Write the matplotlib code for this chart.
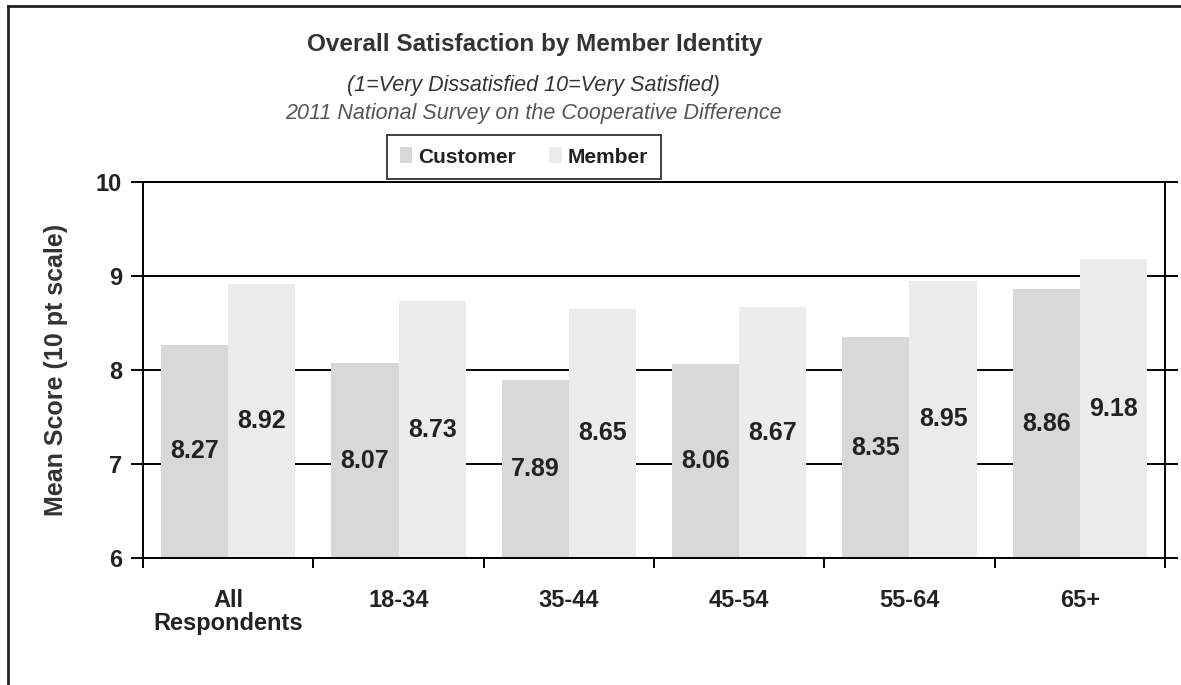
import numpy as np
import matplotlib.pyplot as plt
from matplotlib.lines import Line2D

# Data
categories = ["All\nRespondents", "18-34", "35-44", "45-54", "55-64", "65+"]
customer = [8.27, 8.07, 7.89, 8.06, 8.35, 8.86]
member = [8.92, 8.73, 8.65, 8.67, 8.95, 9.18]

plt.rcParams['font.family'] = ['Liberation Sans', 'DejaVu Sans']

fig = plt.figure(figsize=(11.81, 6.85), dpi=100)
ax = fig.add_axes([143 / 1181, 1 - 558 / 685, (1165 - 143) / 1181, (558 - 182) / 685])

x = np.arange(len(categories))
w = 0.395
b1 = ax.bar(x - w / 2, np.array(customer) - 6, w, bottom=6, color='#d8d8d8',
            label='Customer', zorder=2)
b2 = ax.bar(x + w / 2, np.array(member) - 6, w, bottom=6, color='#ececec',
            label='Member', zorder=2)

for bars, vals in ((b1, customer), (b2, member)):
    ax.bar_label(bars, labels=[f"{v:.2f}" for v in vals], label_type='center',
                 fontsize=18, fontweight='bold', color='#222222')

ax.set_ylim(6, 10)
ax.set_xlim(-0.5, len(categories) - 0.5)
ax.set_yticks([6, 7, 8, 9, 10])
ax.yaxis.grid(True, color='black', linewidth=1.4, zorder=0)
ax.set_axisbelow(True)
for s in ax.spines.values():
    s.set_linewidth(1.4)

ax.set_xticks(x)
ax.set_xticklabels(categories, fontsize=17, fontweight='bold', color='#222222',
                   linespacing=1.05)
ax.set_xticks(np.arange(len(categories) + 1) - 0.5, minor=True)
ax.tick_params(axis='x', which='major', length=0, pad=22)
ax.tick_params(axis='x', which='minor', length=7, width=1.4, direction='out')
ax.tick_params(axis='y', labelsize=17, length=9, width=1.4, pad=6,
               right=True, direction='out')
for t in ax.get_yticklabels():
    t.set_fontweight('bold')
    t.set_color('#222222')

ax.set_ylabel("Mean Score (10 pt scale)", fontsize=18, fontweight='bold',
              color='#333333', labelpad=20)

# titles
fig.text(535 / 1181, 1 - 44 / 685, "Overall Satisfaction by Member Identity",
         ha='center', va='center', fontsize=17.5, fontweight='bold', color='#333333')
fig.text(533 / 1181, 1 - 86 / 685, "(1=Very Dissatisfied 10=Very Satisfied)",
         ha='center', va='center', fontsize=15.5, style='italic', color='#333333')
fig.text(533 / 1181, 1 - 113 / 685, "2011 National Survey on the Cooperative Difference",
         ha='center', va='center', fontsize=15.5, style='italic', color='#555555')

leg = fig.legend(handles=[b1, b2], loc='center', bbox_to_anchor=(524 / 1181, 1 - 157 / 685),
                 ncol=2, frameon=True, fancybox=False, edgecolor='black',
                 prop={'weight': 'bold', 'size': 15}, handlelength=0.6,
                 handleheight=0.8, handletextpad=0.3, columnspacing=1.6,
                 borderpad=0.6)
leg.get_frame().set_linewidth(1.3)
for t in leg.get_texts():
    t.set_color('#222222')

# outer border from the scan (left and top edges)
fig.add_artist(Line2D([8 / 1181, 8 / 1181], [0, 1 - 6 / 685], color='#222222', linewidth=2))
fig.add_artist(Line2D([8 / 1181, 1], [1 - 6 / 685, 1 - 6 / 685], color='#222222', linewidth=2))

fig.savefig("out.png", dpi=100)
